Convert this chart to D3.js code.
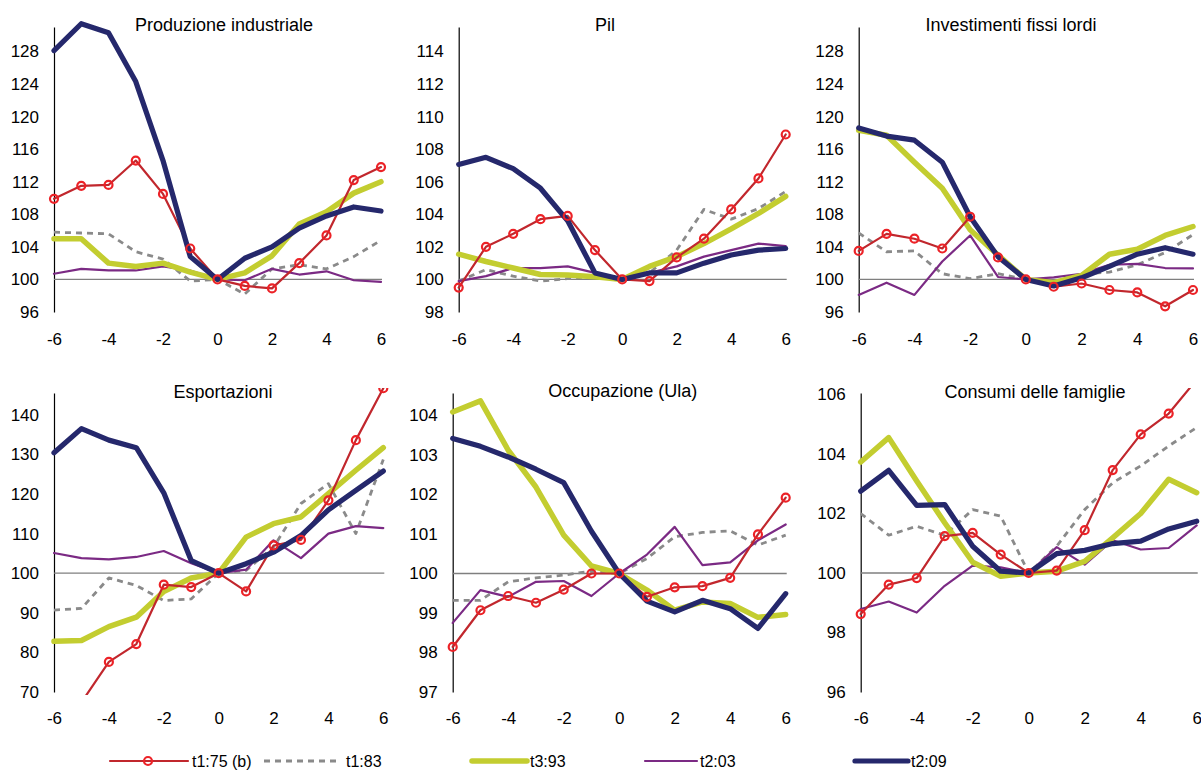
<!DOCTYPE html>
<html><head><meta charset="utf-8">
<script src="https://cdn.jsdelivr.net/npm/d3@7"></script>
<style>
body{margin:0;background:#fff}
svg{display:block}
text{font-family:"Liberation Sans",Arial,Helvetica,sans-serif;fill:#000}
</style>
</head><body>
<svg id="chart" width="1201" height="770"></svg>
<script>
// ---------- DATA ----------
const periods = [-6,-5,-4,-3,-2,-1,0,1,2,3,4,5,6];
const xTickValues = [-6,-4,-2,0,2,4,6];
const seriesNames = ["t1:75 (b)","t1:83","t3:93","t2:03","t2:09"];
const panelTitles = ["Produzione industriale","Pil","Investimenti fissi lordi","Esportazioni","Occupazione (Ula)","Consumi delle famiglie"];

// Produzione industriale
const prod_t175 = [109.9,111.5,111.6,114.6,110.5,103.8,100,99.2,98.9,102.0,105.4,112.2,113.8];
const prod_t183 = [105.8,105.7,105.6,103.4,102.5,99.8,100,98.2,101.3,101.8,101.3,102.8,104.8];
const prod_t393 = [105.0,105.0,102.0,101.6,102.0,100.9,100,100.8,102.9,106.8,108.3,110.6,112.0];
const prod_t203 = [100.7,101.3,101.1,101.1,101.6,101.1,100,99.9,101.3,100.6,101.0,99.9,99.7];
const prod_t209 = [128.1,131.4,130.3,124.3,114.6,102.8,100,102.6,104.0,106.3,107.8,108.9,108.4];

// Pil
const pil_t175 = [99.5,102.0,102.8,103.7,103.9,101.8,100,99.9,101.35,102.5,104.3,106.2,108.9];
const pil_t183 = [99.9,100.6,100.2,99.9,100.05,100.2,100,100.4,101.8,104.3,103.7,104.35,105.4];
const pil_t393 = [101.55,101.1,100.7,100.3,100.27,100.16,100,100.8,101.4,102.2,103.1,104.05,105.1];
const pil_t203 = [99.9,100.2,100.7,100.7,100.8,100.4,100,100.4,100.8,101.4,101.8,102.2,102.05];
const pil_t209 = [107.06,107.5,106.8,105.6,103.6,100.4,100,100.4,100.4,101.0,101.5,101.8,101.9];

// Investimenti fissi lordi
const inv_t175 = [103.5,105.6,105.0,103.8,107.7,102.7,100,99.1,99.5,98.7,98.4,96.7,98.7];
const inv_t183 = [105.7,103.4,103.5,100.7,100.1,100.7,100,99.7,100.65,100.9,101.8,103.3,105.5];
const inv_t393 = [118.3,117.7,114.4,111.2,106.1,103.0,100,99.6,100.5,103.1,103.7,105.4,106.5];
const inv_t203 = [98.1,99.6,98.1,102.2,105.4,100.3,100,100.25,100.7,101.8,101.9,101.4,101.35];
const inv_t209 = [118.6,117.6,117.1,114.4,107.7,102.8,100,99.2,100.2,101.6,103.1,103.9,103.1];

// Esportazioni
const exp_t175 = [60.0,67.4,77.6,82.1,97.1,96.5,100,95.4,107.0,108.4,118.4,133.6,146.7];
const exp_t183 = [90.7,91.1,98.8,96.9,93.1,93.5,100,100.7,106.6,117.6,122.6,110.0,128.7];
const exp_t393 = [82.8,83.0,86.5,88.9,95.4,98.8,100,109.1,112.5,114.2,120.1,126.0,131.7];
const exp_t203 = [105.1,103.8,103.5,104.1,105.6,102.5,100,100.9,108.3,103.8,110.0,111.9,111.4];
const exp_t209 = [130.4,136.5,133.6,131.7,120.3,103.2,100,102.4,105.3,109.5,116.0,120.9,125.8];

// Occupazione (Ula)
const occ_t175 = [98.14,99.07,99.43,99.26,99.59,100.0,100,99.41,99.65,99.68,99.89,100.99,101.92];
const occ_t183 = [99.32,99.32,99.79,99.89,99.96,100.06,100,100.38,100.93,101.04,101.08,100.72,100.97];
const occ_t393 = [104.09,104.37,103.12,102.19,100.97,100.19,100,99.58,99.07,99.28,99.24,98.89,98.96];
const occ_t203 = [98.75,99.58,99.41,99.79,99.81,99.43,100,100.48,101.18,100.21,100.28,100.84,101.24];
const occ_t209 = [103.42,103.22,102.95,102.64,102.30,101.07,100,99.30,99.03,99.32,99.11,98.61,99.49];

// Consumi delle famiglie
const cons_t175 = [98.62,99.61,99.83,101.24,101.35,100.62,100,100.08,101.44,103.46,104.66,105.36,106.5];
const cons_t183 = [102.0,101.27,101.57,101.27,102.13,101.91,100,100.9,102.13,103.03,103.6,104.27,104.89];
const cons_t393 = [103.73,104.55,103.09,101.69,100.36,99.89,100,100.06,100.39,101.18,102.0,103.15,102.70];
const cons_t203 = [98.79,99.04,98.67,99.57,100.25,100.19,100,100.87,100.28,101.1,100.79,100.84,101.6];
const cons_t209 = [102.75,103.45,102.27,102.30,100.90,100.06,100,100.65,100.76,100.99,101.07,101.48,101.74];

// y tick labels
const yTicksProd = [96,100,104,108,112,116,120,124,128];
const yTicksPil  = [98,100,102,104,106,108,110,112,114];
const yTicksInv  = [96,100,104,108,112,116,120,124,128];
const yTicksExp  = [70,80,90,100,110,120,130,140];
const yTicksOcc  = [97,98,99,100,101,102,103,104];
const yTicksCons = [96,98,100,102,104,106];

const panelSeries = [
  [prod_t175,prod_t183,prod_t393,prod_t203,prod_t209],
  [pil_t175,pil_t183,pil_t393,pil_t203,pil_t209],
  [inv_t175,inv_t183,inv_t393,inv_t203,inv_t209],
  [exp_t175,exp_t183,exp_t393,exp_t203,exp_t209],
  [occ_t175,occ_t183,occ_t393,occ_t203,occ_t209],
  [cons_t175,cons_t183,cons_t393,cons_t203,cons_t209]
];
const panelYTicks = [yTicksProd,yTicksPil,yTicksInv,yTicksExp,yTicksOcc,yTicksCons];

// ---------- LAYOUT / STYLE ----------
const styles = [
  {color:"#c1272d", width:2.2, dash:null},
  {color:"#8a8a8a", width:2.8, dash:"6,5"},
  {color:"#c3cd30", width:5.5, dash:null},
  {color:"#7b2a84", width:2.2, dash:null},
  {color:"#25286c", width:5.2, dash:null}
];
const markerColor = "#ec2227";
const drawOrder = [1,3,2,0,4];

const layout = [
  {x0:54,   x1:381,   yTop:27,  yBot:312, domain:[96,131],     tx:224,   ty:31,  xly:345, clipTop:12},
  {x0:458.7,x1:785.7, yTop:27,  yBot:312, domain:[98,115.5],   tx:605,   ty:31,  xly:345, clipTop:12},
  {x0:858.7,x1:1193,  yTop:27,  yBot:312, domain:[96,131],     tx:1011,  ty:31,  xly:345, clipTop:12},
  {x0:54,   x1:383.3, yTop:393, yBot:692, domain:[70,145.5],   tx:223,   ty:398, xly:724, clipTop:5},
  {x0:452.7,x1:785.7, yTop:393, yBot:692, domain:[97,104.57],  tx:622.7, ty:397, xly:724, clipTop:5},
  {x0:860.7,x1:1196.7,yTop:393, yBot:692, domain:[96,106.05],  tx:1035,  ty:398, xly:724, clipTop:5}
];

const svg = d3.select("#chart");
const defs = svg.append("defs");

layout.forEach((L, p) => {
  const x = d3.scaleLinear().domain([-6,6]).range([L.x0, L.x1]);
  const y = d3.scaleLinear().domain(L.domain).range([L.yBot, L.yTop]);
  const g = svg.append("g");

  // title
  g.append("text").attr("x", L.tx).attr("y", L.ty)
    .attr("text-anchor","middle").attr("font-size",18).text(panelTitles[p]);

  // y axis
  const ya = g.append("g").attr("transform",`translate(${L.x0},0)`)
    .call(d3.axisLeft(y).tickValues(panelYTicks[p]).tickSize(0).tickSizeOuter(0).tickPadding(15).tickFormat(d=>String(d)));
  ya.select(".domain").attr("stroke","#000").attr("stroke-width",1.2);
  ya.selectAll("text").attr("font-size",17).attr("font-family",'"Liberation Sans",Arial,sans-serif');

  // x axis labels
  const xa = g.append("g").attr("transform",`translate(0,${L.xly})`)
    .call(d3.axisBottom(x).tickValues(xTickValues).tickSize(0).tickFormat(d=>String(d)));
  xa.select(".domain").remove();
  xa.selectAll("text").attr("y",0).attr("dy",0).attr("font-size",17).attr("font-family",'"Liberation Sans",Arial,sans-serif');

  // baseline at 100
  g.append("line").attr("x1",L.x0).attr("x2",L.x1+1).attr("y1",y(100)).attr("y2",y(100))
    .attr("stroke","#7f7f7f").attr("stroke-width",1.3);

  // clip
  const cid = "clip"+p;
  defs.append("clipPath").attr("id",cid).append("rect")
    .attr("x",L.x0-6).attr("y",L.yTop-L.clipTop)
    .attr("width",L.x1-L.x0+14).attr("height",L.yBot-L.yTop+L.clipTop+3);
  const plot = g.append("g").attr("clip-path",`url(#${cid})`);

  const line = d3.line().x((d,i)=>x(periods[i])).y(d=>y(d));
  drawOrder.forEach(s => {
    const st = styles[s];
    plot.append("path").datum(panelSeries[p][s])
      .attr("d", line).attr("fill","none")
      .attr("stroke", st.color).attr("stroke-width", st.width)
      .attr("stroke-linejoin","round").attr("stroke-linecap", st.dash ? "butt" : "round")
      .attr("stroke-dasharray", st.dash);
  });
  // markers for t1:75
  plot.selectAll("circle.mk").data(panelSeries[p][0]).enter().append("circle")
    .attr("class","mk")
    .attr("cx",(d,i)=>x(periods[i])).attr("cy",d=>y(d)).attr("r",4)
    .attr("fill","none").attr("stroke",markerColor).attr("stroke-width",2.2);
});

// ---------- LEGEND ----------
const legendItems = [
  {s:0, x1:110, x2:188, tx:192},
  {s:1, x1:264, x2:341, tx:346},
  {s:2, x1:472, x2:527, tx:530},
  {s:3, x1:645, x2:697, tx:700},
  {s:4, x1:855, x2:908, tx:911}
];
const ly = 761;
const lg = svg.append("g");
legendItems.forEach(it => {
  const st = styles[it.s];
  lg.append("line").attr("x1",it.x1).attr("x2",it.x2).attr("y1",ly).attr("y2",ly)
    .attr("stroke",st.color).attr("stroke-width",st.width)
    .attr("stroke-linecap", st.dash ? "butt" : "round")
    .attr("stroke-dasharray", st.dash);
  if (it.s === 0) {
    lg.append("circle").attr("cx",(it.x1+it.x2)/2 - 1).attr("cy",ly).attr("r",4)
      .attr("fill","none").attr("stroke",markerColor).attr("stroke-width",2.2);
  }
  lg.append("text").attr("x",it.tx).attr("y",ly).attr("dy","0.35em").attr("font-size",16)
    .text(seriesNames[it.s]);
});
</script>
</body></html>
